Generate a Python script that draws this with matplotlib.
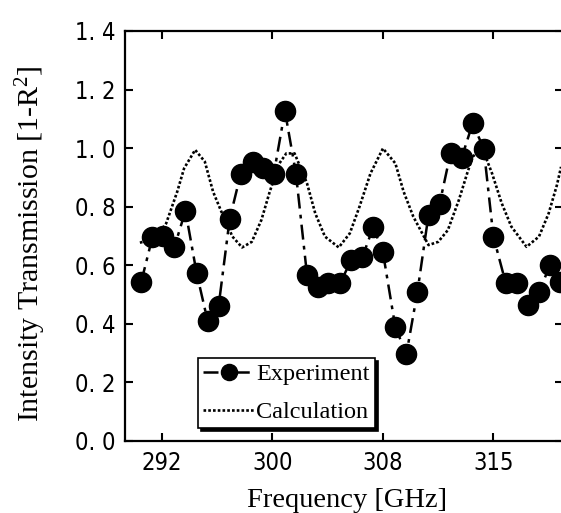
import numpy as np
import matplotlib
matplotlib.use('Agg')
import matplotlib.pyplot as plt

exp_freq = [290.5, 291.3, 292.1, 292.9, 293.7, 294.5, 295.3, 296.1, 296.9, 297.7,
            298.6, 299.3, 300.1, 300.9, 301.7, 302.5, 303.3, 304.0, 304.9, 305.7,
            306.5, 307.3, 308.0, 308.9, 309.7, 310.5, 311.3, 312.1, 312.9, 313.7,
            314.5, 315.3, 316.0, 316.9, 317.7, 318.5, 319.3, 320.1, 320.8]
exp_trans = [0.544, 0.695, 0.700, 0.663, 0.786, 0.575, 0.411, 0.461, 0.758, 0.912,
             0.952, 0.933, 0.913, 1.127, 0.913, 0.568, 0.525, 0.538, 0.538, 0.618,
             0.627, 0.730, 0.644, 0.388, 0.297, 0.510, 0.772, 0.809, 0.984, 0.967,
             1.085, 0.998, 0.698, 0.538, 0.538, 0.464, 0.508, 0.601, 0.544]

# calculated curve
calc_freq = [290.4, 291.5, 292.3, 293.1, 293.6, 294.4, 295.1, 295.7, 296.3, 297.1,
             297.8, 298.5, 299.2, 299.8, 300.5, 301.0, 301.6, 302.0, 302.5, 303.1,
             303.8, 304.8, 305.6, 306.3, 307.1, 308.0, 308.9, 309.5, 310.2, 311.3,
             312.0, 312.7, 313.5, 314.1, 314.5, 315.2, 315.9, 316.6, 317.3, 318.4,
             319.3, 320.0, 320.6, 320.9]
calc_trans = [0.677, 0.693, 0.743, 0.851, 0.931, 0.994, 0.954, 0.851, 0.783, 0.698,
              0.661, 0.680, 0.755, 0.851, 0.948, 0.982, 0.982, 0.937, 0.880, 0.777,
              0.698, 0.661, 0.709, 0.800, 0.914, 0.999, 0.948, 0.851, 0.766, 0.669,
              0.680, 0.720, 0.823, 0.914, 0.971, 0.999, 0.914, 0.812, 0.732, 0.663,
              0.698, 0.777, 0.874, 0.936]

xtick_pos = [292, 300, 308, 316]
xtick_labels = ['292', '300', '308', '315']
ytick_pos = [0.0, 0.2, 0.4, 0.6, 0.8, 1.0, 1.2, 1.4]
ytick_labels = ['0. 0', '0. 2', '0. 4', '0. 6', '0. 8', '1. 0', '1. 2', '1. 4']

serif = ['Liberation Serif', 'DejaVu Serif']
plt.rcParams['mathtext.fontset'] = 'stix'

fig = plt.figure(figsize=(5.61, 5.13), dpi=100)
ax = fig.add_axes([125 / 561, 72 / 513, 438 / 561, 410 / 513])

ax.plot(calc_freq, calc_trans, color='black', lw=1.9, linestyle=(0, (1, 0.8)),
        label='Calculation', zorder=2)
ax.plot(exp_freq, exp_trans, color='black', lw=1.8, linestyle=(0, (6, 2.5, 1.5, 2.5)),
        marker='o', markersize=14.5, label='Experiment', zorder=3)

ax.set_xlim(289.32, 321.04)
ax.set_ylim(0, 1.4)
ax.set_xticks(xtick_pos)
ax.set_xticklabels(xtick_labels, family='DejaVu Sans', stretch='condensed', fontsize=17)
ax.set_yticks(ytick_pos)
ax.set_yticklabels(ytick_labels, family='DejaVu Sans', stretch='condensed', fontsize=17)
ax.tick_params(direction='in', length=6, width=1.5, top=True, right=True, pad=7)

for sp in ax.spines.values():
    sp.set_linewidth(1.6)

ax.set_xlabel('Frequency [GHz]', family=serif, fontsize=20.5, va='baseline')
ax.xaxis.set_label_coords(0.507, -0.16)
ax.set_ylabel('Intensity Transmission [1-$\\mathregular{R^2}$]', family=serif,
              fontsize=21.5, va='center')
ax.yaxis.set_label_coords(-0.215, 0.48)

handles, labels = ax.get_legend_handles_labels()
leg = ax.legend(handles[::-1], labels[::-1], loc='lower left',
                bbox_to_anchor=(0.167, 0.032), borderaxespad=0,
                prop={'family': serif, 'size': 17.5},
                frameon=True, fancybox=False, shadow={'color': 'black', 'alpha': 1},
                handlelength=2.1, handletextpad=0.1, borderpad=0.2,
                labelspacing=0.65, markerscale=0.8)
leg.get_frame().set_edgecolor('black')
leg.get_frame().set_linewidth(1.2)

fig.savefig('out.png', dpi=100)
